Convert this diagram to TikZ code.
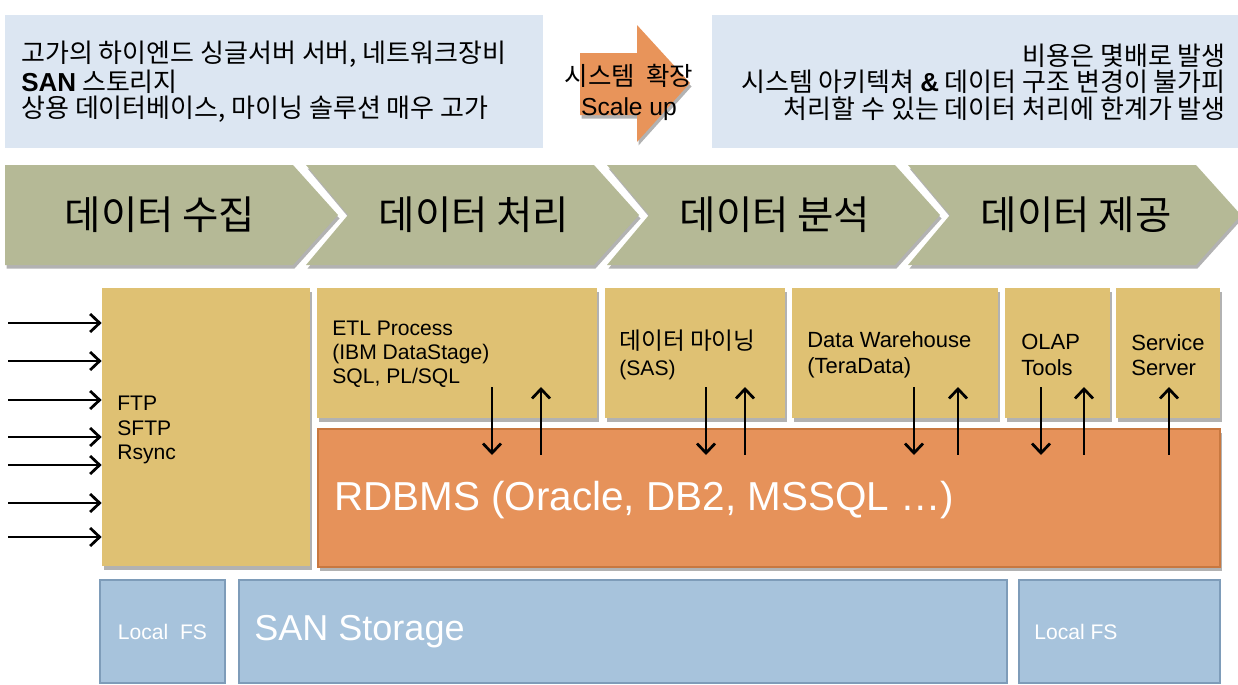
\documentclass[tikz,border=0pt]{standalone}
\usepackage{fontspec}
\setmainfont{Liberation Sans}
\newfontfamily\kr{Noto Sans CJK KR}
\usetikzlibrary{arrows.meta,fit,shadows}
\definecolor{infoblue}{RGB}{220,230,242}
\definecolor{scaleorange}{RGB}{232,148,90}
\definecolor{stagegray}{RGB}{181,185,150}
\definecolor{tooltan}{RGB}{223,193,115}
\definecolor{dborange}{RGB}{230,146,90}
\definecolor{dbedge}{RGB}{200,120,64}
\definecolor{storeblue}{RGB}{167,195,220}
\definecolor{storeedge}{RGB}{126,156,185}
\tikzset{
    boxshadow/.style={drop shadow={shadow xshift=0.3mm,shadow yshift=-0.7mm,opacity=0.3,fill=black}},
    infobox/.style={fill=infoblue,inner sep=0},
    stage/.style={fill=stagegray,boxshadow},
    toolbox/.style={fill=tooltan,inner sep=0,boxshadow},
    dbbox/.style={fill=dborange,draw=dbedge,line width=0.4mm,inner sep=0,boxshadow},
    storebox/.style={fill=storeblue,draw=storeedge,line width=0.5mm,inner sep=0},
    feed/.style={-{Straight Barb[length=1.9mm,width=3.6mm]},line width=0.55mm},
    dnflow/.style={feed},
    upflow/.style={{Straight Barb[length=1.9mm,width=3.6mm]}-,line width=0.55mm},
    krtext/.style={font=\kr\fontsize{14.8}{15}\selectfont,inner sep=0},
    stagetext/.style={font=\kr\fontsize{22.5}{26}\selectfont,inner sep=0},
    tooltext/.style={font=\fontsize{12}{14}\selectfont,inner sep=0,anchor=west,align=left},
    whitetext/.style={text=white,inner sep=0}
}

\begin{document}
\begin{tikzpicture}[x=0.2mm,y=-0.2mm]
    \useasboundingbox (0,0) rectangle (1238,685);

    % top: cost notes and scale up
    \node[infobox,fit={(5,15) (543,148)}] (cost) {};
    \node[krtext,anchor=west,align=left] (cost text) at (21,82)
        {고가의 하이엔드 싱글서버 서버, 네트워크장비\\
         {\rmfamily\bfseries SAN} 스토리지\\
         상용 데이터베이스, 마이닝 솔루션 매우 고가};
    \node[infobox,fit={(712,15) (1238,148)}] (limit) {};
    \node[krtext,anchor=east,align=right] (limit text) at (1226,82)
        {비용은 몇배로 발생\\
         시스템 아키텍쳐 {\rmfamily\bfseries\&} 데이터 구조 변경이 불가피\\
         처리할 수 있는 데이터 처리에 한계가 발생};
    \fill[scaleorange,boxshadow] (580,53) -- (637,53) -- (637,25) -- (690,83)
        -- (637,142) -- (637,115) -- (580,115) -- cycle;
    \node[font=\kr\fontsize{14.5}{17}\selectfont,inner sep=0,align=center] (scaleup) at (629,92)
        {시스템~ 확장\\{\rmfamily\fontsize{14}{17}\selectfont Scale up}};

    % stages
    \foreach \lab [count=\i from 0] in {데이터 수집, 데이터 처리, 데이터 분석, 데이터 제공} {
        \pgfmathsetmacro{\L}{5+301*\i}
        \pgfmathsetmacro{\n}{\i==0 ? 0 : 42}
        \pgfmathsetmacro{\c}{\i==0 ? 160 : \L+168}
        \fill[stage] (\L,165) -- ({\L+288},165) -- ({\L+333},215) -- ({\L+288},265)
            -- (\L,265) -- ({\L+\n},215) -- cycle;
        \node[stagetext] (stage \i) at (\c,215) {\lab};
    }

    % tools
    \node[toolbox,fit={(102,288) (310,566)}] (ftp) {};
    \node[tooltext] (ftp text) at (117,430) {FTP\\SFTP\\Rsync};
    \node[dbbox,fit={(318,429) (1220,567)}] (rdbms) {};
    \node[whitetext,anchor=west,font=\fontsize{23}{27}\selectfont] (rdbms text) at (334,500)
        {RDBMS (Oracle, DB2, MSSQL …)};
    \node[toolbox,fit={(317,288) (597,418)}] (etl) {};
    \node[tooltext,font=\fontsize{12}{13.6}\selectfont] (etl text) at (332,354)
        {ETL Process\\(IBM DataStage)\\SQL, PL/SQL};
    \node[toolbox,fit={(605,288) (785,418)}] (mining) {};
    \node[tooltext,font=\fontsize{12}{14.5}\selectfont] (mining text) at (619,355)
        {{\kr\fontsize{13.5}{14.5}\selectfont 데이터 마이닝}\\(SAS)};
    \node[toolbox,fit={(792,288) (998,418)}] (dw) {};
    \node[tooltext,font=\fontsize{12.5}{14.5}\selectfont] (dw text) at (807,355)
        {Data Warehouse\\(TeraData)};
    \node[toolbox,fit={(1005,288) (1110,418)}] (olap) {};
    \node[tooltext,font=\fontsize{12.5}{14.5}\selectfont] (olap text) at (1021,355)
        {OLAP\\Tools};
    \node[toolbox,fit={(1116,288) (1220,418)}] (service) {};
    \node[tooltext,font=\fontsize{12.5}{14.5}\selectfont] (service text) at (1131,355)
        {Service\\Server};

    % feeds and flows
    \foreach \y in {323,361,400,437,465,503,537}
        \draw[feed] (8,\y) -- (8,\y -| ftp.west);
    \foreach \x/\dir in {492/dnflow,541/upflow,706/dnflow,745/upflow,914/dnflow,
                         958/upflow,1041/dnflow,1084/upflow,1169/upflow}
        \draw[\dir] (\x,387) -- (\x,455);

    % storage
    \node[storebox,fit={(100,580) (225,683)}] (local a) {};
    \node[whitetext,font=\fontsize{12}{14}\selectfont] (local a text) at (local a) {Local~ FS};
    \node[storebox,fit={(239,580) (1007,683)}] (san) {};
    \node[whitetext,anchor=west,font=\fontsize{20.5}{24}\selectfont] (san text) at (254,632) {SAN Storage};
    \node[storebox,fit={(1019,580) (1220,683)}] (local b) {};
    \node[whitetext,anchor=west,font=\fontsize{12}{14}\selectfont] (local b text) at (1034,632) {Local FS};
\end{tikzpicture}
\end{document}
